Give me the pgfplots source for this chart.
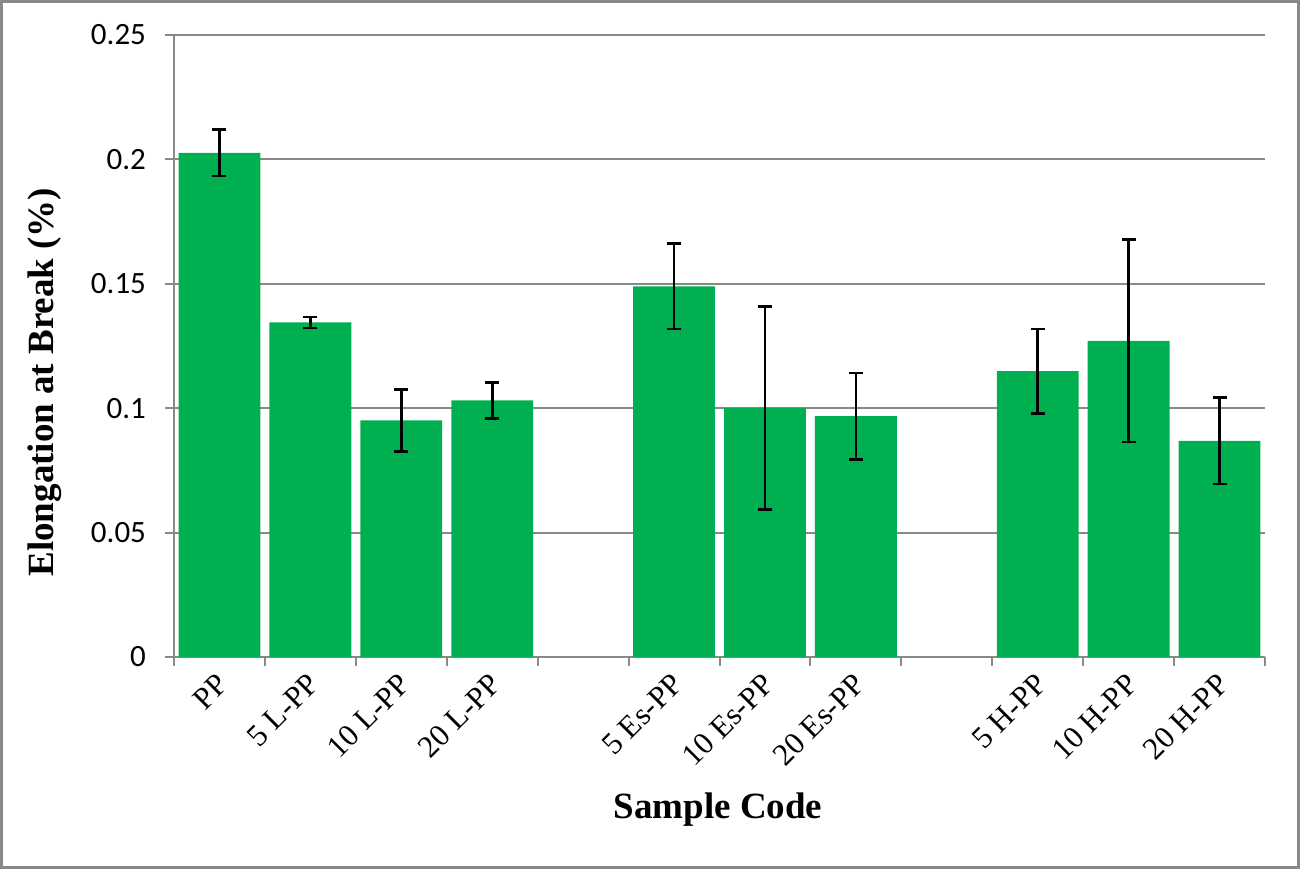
\documentclass[border=0pt]{standalone}
\usepackage{pgfplots}
\pgfplotsset{compat=1.18}
\usepackage{pgfplotstable}
\usepackage{fontspec}
\setmainfont{Liberation Serif}
\newfontfamily\carlito{Carlito}
\definecolor{barGreen}{RGB}{0,176,80}
\definecolor{gridGray}{RGB}{137,137,137}

% x = slot, 4 and 8 are empty gaps between groups
\pgfplotstableread{
x  y      err
0  0.2026 0.0093
1  0.1345 0.0022
2  0.0951 0.0124
3  0.1031 0.0072
5  0.1490 0.0171
6  0.1001 0.0407
7  0.0968 0.0173
9  0.1149 0.0170
10 0.1271 0.0407
11 0.0869 0.0174
}\elongation

\begin{document}
\begin{tikzpicture}
\path[use as bounding box] (-87pt,-106pt) rectangle (563pt,328.5pt);
\draw[gridGray, line width=1.5pt] (-86.25pt,-105.25pt) rectangle (562.25pt,327.75pt);
\begin{axis}[
    scale only axis,
    width=545.5pt, height=311pt,
    xmin=-0.5, xmax=11.5,
    ymin=0, ymax=0.25,
    ybar, bar width=0.9,
    axis x line*=bottom, axis y line*=left,
    axis line style={gridGray, line width=1pt},
    tick align=outside,
    major tick length=4.5pt, minor tick length=4.5pt,
    xtick={0,1,2,3,5,6,7,9,10,11},
    xticklabels={PP,5 L-PP,10 L-PP,20 L-PP,5 Es-PP,10 Es-PP,20 Es-PP,5 H-PP,10 H-PP,20 H-PP},
    major x tick style={draw=none},
    minor xtick={-0.5,0.5,1.5,2.5,3.5,4.5,5.5,6.5,7.5,8.5,9.5,10.5,11.5},
    minor x tick style={gridGray, line width=1pt},
    xticklabel style={rotate=45, anchor=east, yshift=-6pt, font=\fontsize{15.5}{17}\selectfont},
    ytick={0,0.05,0.1,0.15,0.2,0.25},
    yticklabels={0,0.05,0.1,0.15,0.2,0.25},
    major y tick style={gridGray, line width=1pt},
    yticklabel style={xshift=-6pt, font=\carlito\fontsize{15.5}{17}\selectfont},
    ymajorgrids,
    major grid style={gridGray, line width=1pt},
    xlabel={\textbf{Sample Code}},
    ylabel={\textbf{Elongation at Break (\%)}},
    label style={font=\fontsize{18.5}{21}\selectfont},
    xlabel style={at={(axis description cs:0.4986,-0.246)}, anchor=center},
    ylabel style={at={(axis description cs:-0.1182,0.442)}, anchor=center},
]
\addplot[fill=barGreen, draw=none,
    error bars/.cd, y dir=both, y explicit,
    error bar style={black, line width=1.3pt},
    error mark options={rotate=90, mark size=3.5pt, line width=1.3pt, black}]
    table[x=x, y=y, y error=err] {\elongation};
\end{axis}
\end{tikzpicture}
\end{document}
